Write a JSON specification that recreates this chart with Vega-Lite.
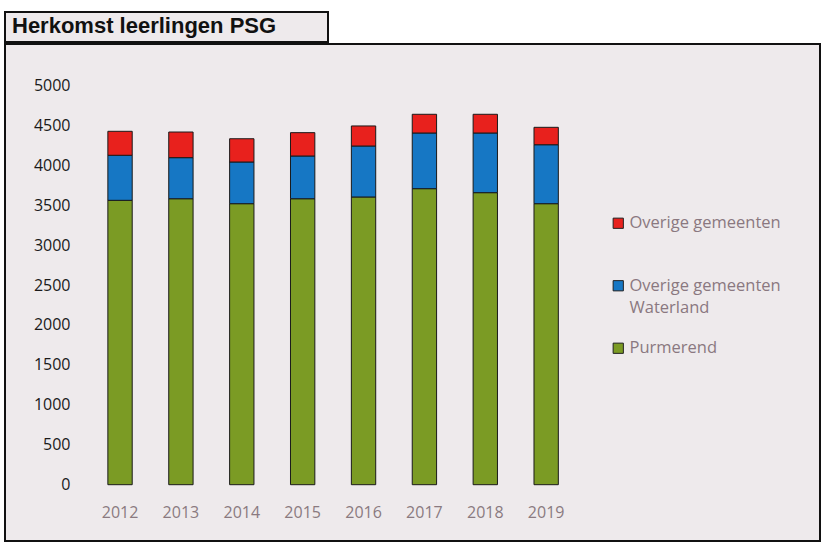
{
  "$schema": "https://vega.github.io/schema/vega-lite/v6.json",
  "padding": {"left": 4, "top": 11, "right": 0, "bottom": 0},
  "background": "white",
  "spacing": 0,
  "config": {
    "view": {"stroke": "#111111", "strokeWidth": 2, "fill": "#eeeaec"},
    "concat": {"spacing": 0},
    "style": {"guide-label": {"lineHeight": 22}}
  },
  "vconcat": [
    {
      "width": 323,
      "height": 30,
      "data": {"values": [{"t": "Herkomst leerlingen PSG"}]},
      "mark": {
        "type": "text",
        "align": "left",
        "baseline": "alphabetic",
        "dx": 7,
        "dy": 6,
        "font": "Liberation Sans",
        "fontSize": 22,
        "fontWeight": "bold",
        "color": "#111111"
      },
      "encoding": {
        "x": {"field": "t", "type": "nominal", "bandPosition": 0, "scale": {"type": "band", "paddingInner": 0, "paddingOuter": 0}, "axis": null},
        "y": {"field": "t", "type": "nominal", "scale": {"type": "band", "paddingInner": 0, "paddingOuter": 0}, "axis": null},
        "text": {"field": "t"}
      }
    },
    {
      "width": 815,
      "height": 497,
      "data": {
        "values": [
          {"year": "2012", "series": "Purmerend", "value": 3560},
          {"year": "2012", "series": "Overige gemeenten Waterland", "value": 564},
          {"year": "2012", "series": "Overige gemeenten", "value": 300},
          {"year": "2013", "series": "Purmerend", "value": 3580},
          {"year": "2013", "series": "Overige gemeenten Waterland", "value": 514},
          {"year": "2013", "series": "Overige gemeenten", "value": 321},
          {"year": "2014", "series": "Purmerend", "value": 3518},
          {"year": "2014", "series": "Overige gemeenten Waterland", "value": 522},
          {"year": "2014", "series": "Overige gemeenten", "value": 291},
          {"year": "2015", "series": "Purmerend", "value": 3580},
          {"year": "2015", "series": "Overige gemeenten Waterland", "value": 535},
          {"year": "2015", "series": "Overige gemeenten", "value": 292},
          {"year": "2016", "series": "Purmerend", "value": 3602},
          {"year": "2016", "series": "Overige gemeenten Waterland", "value": 638},
          {"year": "2016", "series": "Overige gemeenten", "value": 251},
          {"year": "2017", "series": "Purmerend", "value": 3706},
          {"year": "2017", "series": "Overige gemeenten Waterland", "value": 697},
          {"year": "2017", "series": "Overige gemeenten", "value": 234},
          {"year": "2018", "series": "Purmerend", "value": 3656},
          {"year": "2018", "series": "Overige gemeenten Waterland", "value": 747},
          {"year": "2018", "series": "Overige gemeenten", "value": 234},
          {"year": "2019", "series": "Purmerend", "value": 3518},
          {"year": "2019", "series": "Overige gemeenten Waterland", "value": 738},
          {"year": "2019", "series": "Overige gemeenten", "value": 218}
        ]
      },
      "mark": {"type": "bar", "stroke": "#1a1a1a", "strokeWidth": 1},
      "encoding": {
        "x": {
          "field": "year",
          "type": "ordinal",
          "scale": {"range": [84.6, 571.6], "paddingInner": 0.6, "paddingOuter": 0.3},
          "axis": {
            "title": null,
            "labelAngle": 0,
            "labelBaseline": "middle",
            "offset": -29,
            "domain": false,
            "ticks": false,
            "tickSize": 0,
            "labelPadding": 0,
            "labelFont": "Open Sans",
            "labelFontSize": 16,
            "labelColor": "#8a7a80"
          }
        },
        "y": {
          "field": "value",
          "type": "quantitative",
          "stack": "zero",
          "scale": {"domain": [0, 5000], "range": [440.7, 41.3], "nice": false},
          "axis": {
            "title": null,
            "format": "d",
            "values": [0, 500, 1000, 1500, 2000, 2500, 3000, 3500, 4000, 4500, 5000],
            "grid": false,
            "domain": false,
            "ticks": false,
            "tickSize": 0,
            "labelPadding": 0,
            "offset": -65,
            "labelFont": "Open Sans",
            "labelFontSize": 16,
            "labelColor": "#1a1a1a"
          }
        },
        "color": {
          "field": "series",
          "type": "nominal",
          "scale": {
            "domain": ["Overige gemeenten", "Overige gemeenten Waterland", "Purmerend"],
            "range": ["#e8211d", "#1677c4", "#7b9b24"]
          },
          "legend": {
            "title": null,
            "orient": "none",
            "legendX": 605,
            "legendY": 203,
            "symbolType": "square",
            "symbolSize": 105,
            "symbolStrokeColor": "#222222",
            "symbolStrokeWidth": 1,
            "symbolOpacity": 1,
            "labelFont": "Open Sans",
            "labelFontSize": 16.5,
            "labelColor": "#8a7880",
            "labelOffset": 3,
            "labelLimit": 250,
            "rowPadding": 23.5,
            "labelExpr": "datum.label == 'Overige gemeenten Waterland' ? ['Overige gemeenten', 'Waterland'] : [datum.label, '']"
          }
        },
        "order": {"field": "series", "sort": "descending"}
      }
    }
  ]
}
